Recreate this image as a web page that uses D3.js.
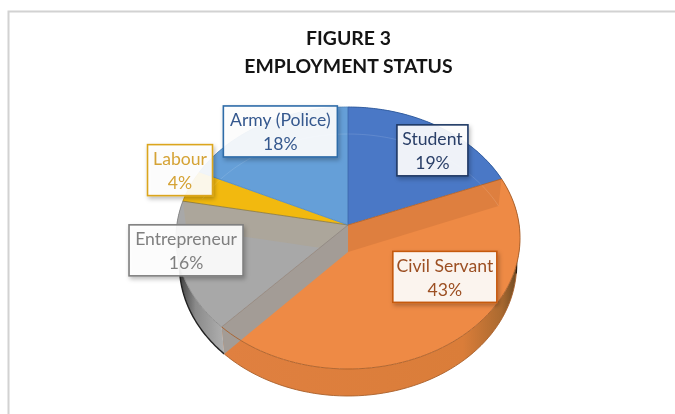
<!DOCTYPE html>
<html><head><meta charset="utf-8">
<script src="https://cdn.jsdelivr.net/npm/d3@7"></script>
<style>html,body{margin:0;padding:0;background:#fff;overflow:hidden}svg{display:block;filter:blur(0.35px)}</style>
</head><body><svg id="c" width="675" height="414"></svg>
<script>
const titleLines = ["FIGURE 3", "EMPLOYMENT STATUS"];
const categories = ["Student", "Civil Servant", "Entrepreneur", "Labour", "Army (Police)"];
const values = [19, 43, 16, 4, 18];
const topColors = ["#4a78c6", "#ee8a45", "#a8a8a8", "#f2b90f", "#659fd8"];
const sideColors = ["#3b64a8", "#d97a36", "#8f8f8f", "#c99a0c", "#5288bd"];
const bandColors = [null, "#de7f3f", "#aca69b", null, null];
const labelBorders = ["#1f3864", "#c55a11", "#7f7f7f", "#dba51c", "#2e6ca8"];
const labelTexts = ["#2a3f68", "#9c4f22", "#7f7f7f", "#d5a336", "#35588e"];
const labelBoxW = [71, 104, 114, 65, 114];
const labelOffsets = [[-4.5,24.5],[-8,-65],[6,-16],[-10,-16],[17,7.5]];

const W = 675, H = 414;
const svg = d3.select("#c");
const defs = svg.append("defs");

// pie placed with a perspective projection of the unit disc
const cx = 348, apexY = 225, depth = 27, persp = 0.0992;
const a = 171.2, b = 129.7, floorScale = 0.98;
const proj = (ang, r = 1, floor = false) => {
  const X = r * Math.sin(ang), Y = r * Math.cos(ang), w = 1 + persp * Y;
  const k = floor ? floorScale : 1;
  return [cx + k * a * X / w, apexY + (floor ? depth : 0) - b * Y / w];
};
const line = d3.line();
const arcPts = (s, e, floor) => d3.range(0, 81).map(i => proj(s + (e - s) * i / 80, 1, floor));

const arcs = d3.pie().sort(null).value(d => d)(values);

const sideGrad = defs.append("linearGradient").attr("id","sideGray")
  .attr("gradientUnits","userSpaceOnUse").attr("x1",178).attr("x2",228).attr("y1",0).attr("y2",0);
sideGrad.append("stop").attr("offset",0).attr("stop-color","#3a3a3a");
sideGrad.append("stop").attr("offset",.35).attr("stop-color","#8a8a8a");
sideGrad.append("stop").attr("offset",1).attr("stop-color","#b5b5b5");
const sideOr = defs.append("linearGradient").attr("id","sideOrange")
  .attr("gradientUnits","userSpaceOnUse").attr("x1",226).attr("x2",522).attr("y1",0).attr("y2",0);
sideOr.append("stop").attr("offset",0).attr("stop-color","#e08040");
sideOr.append("stop").attr("offset",.8).attr("stop-color","#da7d39");
sideOr.append("stop").attr("offset",.93).attr("stop-color","#ab6a30");
sideOr.append("stop").attr("offset",1).attr("stop-color","#5a4020");
const shadow = defs.append("filter").attr("id","sh").attr("x","-20%").attr("y","-20%").attr("width","150%").attr("height","150%");
shadow.append("feDropShadow").attr("dx",1.5).attr("dy",2.5).attr("stdDeviation",2.2).attr("flood-color","#000").attr("flood-opacity",.28);

// chart frame
svg.append("path").attr("d", line([[8.5,H],[8.5,11.5],[W,11.5]])).attr("fill","none").attr("stroke","#d2d2d2").attr("stroke-width",2);

// side walls
const sideFill = i => i === 1 ? "url(#sideOrange)" : i === 2 ? "url(#sideGray)" : sideColors[i];
svg.append("g").selectAll("path").data(arcs).join("path")
  .attr("d", d => line(arcPts(d.startAngle, d.endAngle, false).concat(arcPts(d.startAngle, d.endAngle, true).reverse())) + "Z")
  .attr("fill", (d,i) => sideFill(i));

// outer lower edge
svg.append("g").selectAll("path").data([arcs[1], arcs[2]]).join("path")
  .attr("d", d => line(arcPts(d.startAngle, d.endAngle, true)))
  .attr("fill","none").attr("stroke",(d,i)=> i ? "#222" : "#a9602a").attr("stroke-width",(d,i)=> i ? 1.4 : .9);
// dark shaded edge on the right of the orange wall
const civil = arcs[1];
svg.append("path")
  .attr("d", line(arcPts(civil.startAngle + (civil.endAngle-civil.startAngle)*.1, civil.startAngle + (civil.endAngle-civil.startAngle)*.2, true)))
  .attr("fill","none").attr("stroke","#2a1c10").attr("stroke-width",1.3);

// top faces
svg.append("g").selectAll("path").data(arcs).join("path")
  .attr("d", d => line([proj(0,0)].concat(arcPts(d.startAngle, d.endAngle, false))) + "Z")
  .attr("fill", (d,i) => topColors[i]);

// see-through inner walls
const wall = ang => line([proj(0,0), proj(ang), proj(ang,1,true), proj(0,0,true)]) + "Z";
const bands = svg.append("g");
bands.append("path").attr("d", wall(arcs[1].startAngle)).attr("fill", bandColors[1]);
bands.append("path").attr("d", wall(arcs[2].endAngle)).attr("fill", bandColors[2]);
bands.append("path").attr("d", wall(arcs[1].endAngle)).attr("fill", "#a39c96");

// faint far rim of the floor
svg.append("g").selectAll("path").data([arcs[4], arcs[0]]).join("path")
  .attr("d", d => line(arcPts(d.startAngle, d.endAngle, true)))
  .attr("fill","none").attr("stroke","#ffffff").attr("stroke-opacity",.12).attr("stroke-width",1);

// rim and slice edges
svg.append("g").selectAll("path").data(arcs).join("path")
  .attr("d", d => line(arcPts(d.startAngle, d.endAngle, false)))
  .attr("fill","none").attr("stroke",(d,i)=>["#2f5a9c","#a9602a","#8a8a8a","#c99a0c","#5288bd"][i]).attr("stroke-width",.9);
svg.append("g").selectAll("path").data(arcs).join("path")
  .attr("d", d => line([proj(d.startAngle), proj(0,0)]))
  .attr("fill","none").attr("stroke",(d,i)=>["#3b64a8","#a9602a","#8f8780","#8a7a40","#4f86bd"][i]).attr("stroke-width",.8);

// title
svg.append("g").selectAll("text").data(titleLines).join("text")
  .attr("x", 348.5).attr("y", (d,i)=> 45 + i*27.5)
  .attr("text-anchor","middle").attr("font-family","Lato, 'Open Sans', sans-serif")
  .attr("font-weight",700).attr("font-size",19.4).attr("fill","#141414").text(d=>d);

// data labels
const labels = svg.append("g").attr("font-family","Lato, 'Open Sans', sans-serif").attr("font-size",17.6);
arcs.forEach((d,i) => {
  const p = proj((d.startAngle + d.endAngle)/2);
  const lx = p[0] + labelOffsets[i][0], ly = p[1] + labelOffsets[i][1];
  const g = labels.append("g").attr("transform",`translate(${lx},${ly})`);
  g.append("rect").attr("x",-labelBoxW[i]/2).attr("y",-25.5).attr("width",labelBoxW[i]).attr("height",51)
    .attr("fill","#fff").attr("fill-opacity",.9).attr("stroke",labelBorders[i]).attr("stroke-width",1.6).attr("filter","url(#sh)");
  g.append("text").attr("text-anchor","middle").attr("y",-5).attr("fill",labelTexts[i]).text(categories[i]);
  g.append("text").attr("text-anchor","middle").attr("y",19).attr("fill",labelTexts[i]).text(values[i] + "%");
});
</script></body></html>
